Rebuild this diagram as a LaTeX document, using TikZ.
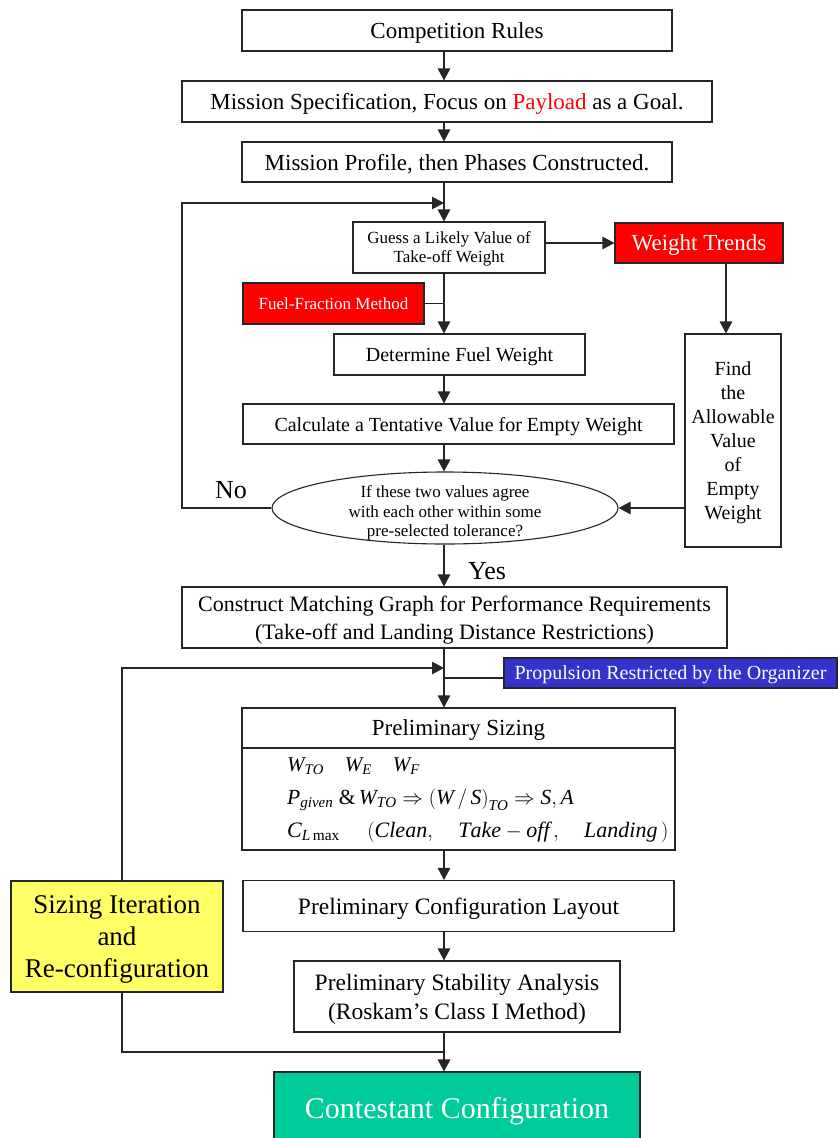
\documentclass[tikz,border=0pt]{standalone}
\usepackage{fontspec}
\setmainfont{Liberation Serif}
\usetikzlibrary{arrows.meta,shapes.geometric}
\definecolor{fred}{HTML}{FF0000}
\definecolor{fblue}{HTML}{3333CC}
\definecolor{fyel}{HTML}{FFFF66}
\definecolor{fteal}{HTML}{00CC99}
\newcommand{\fsz}[2]{\fontsize{#1}{#2}\selectfont}
\begin{document}
\begin{tikzpicture}[x=1pt,y=-1pt,
  box/.style={draw=black!85, line width=1.1pt, inner sep=0pt, align=center, fill=white, text depth=0pt},
  arr/.style={line width=1.1pt, draw=black!85, -{Triangle[length=12pt,width=12.5pt]}},
  ln/.style={line width=1.1pt, draw=black!85},
  lbl/.style={inner sep=0pt}]
\useasboundingbox[fill=white] (0,0) rectangle (838,1138);

% helper coordinates
\coordinate (X) at (444,0);
\coordinate (WX) at (726,0);
\coordinate (fbl) at (182,203);
\coordinate (fbj) at (444,203);
\coordinate (pj) at (444,678);
\coordinate (YL) at (122,668);
\coordinate (bj) at (444,1052);

% nodes
\node[box, minimum width=430pt, minimum height=41pt, font=\fsz{23}{27}] (cr) at (457,30.5) {Competition Rules};
\node[box, minimum width=530pt, minimum height=41pt, font=\fsz{23}{27}] (ms) at (447,101.5) {Mission Specification, Focus on \textcolor{fred}{Payload} as a Goal.};
\node[box, minimum width=430pt, minimum height=40pt, font=\fsz{23}{27}] (mp) at (457,162) {Mission Profile, then Phases Constructed.};
\node[box, minimum width=192pt, minimum height=51pt, font=\fsz{17}{19}] (guess) at (449,247.5) {Guess a Likely Value of\\Take-off Weight};
\node[box, fill=fred, text=white, minimum width=168pt, minimum height=40pt, font=\fsz{23}{27}] (wt) at (699,243) {Weight Trends};
\node[box, fill=fred, text=white, minimum width=181pt, minimum height=41pt, font=\fsz{17}{19}] (ff) at (333.5,303.5) {Fuel-Fraction Method};
\node[box, minimum width=251pt, minimum height=41pt, font=\fsz{20}{24}] (dfw) at (459.5,354.5) {Determine Fuel Weight};
\node[box, minimum width=431pt, minimum height=40pt, font=\fsz{20}{24}] (calc) at (458.5,424) {Calculate a Tentative Value for Empty Weight};
\node[box, ellipse, minimum width=346pt, minimum height=72pt] (ell) at (445,508) {};
\node[lbl, align=center, font=\fsz{17}{19.5}] (elltext) at (445,513) {If these two values agree\\with each other within some\\pre-selected tolerance?};
\node[box, minimum width=96pt, minimum height=213pt, font=\fsz{20}{24}] (find) at (733,440.5) {Find\\the\\Allowable\\Value\\of\\Empty\\Weight};
\node[box, minimum width=545pt, minimum height=61pt, font=\fsz{22}{28}] (con) at (454.5,617.5) {Construct Matching Graph for Performance Requirements\\(Take-off and Landing Distance Restrictions)};
\node[box, fill=fblue, text=white, minimum width=333pt, minimum height=30pt, font=\fsz{20}{24}] (prop) at (670.5,673) {Propulsion Restricted by the Organizer};
\node[box, minimum width=433pt, minimum height=40pt, font=\fsz{23}{27}] (szh) at (458.5,728) {Preliminary Sizing};
\node[box, minimum width=433pt, minimum height=102pt] (szb) at (458.5,799) {};
\node[lbl, anchor=west, font=\fsz{21}{24}] (m1) at (287,766) {$\mathit{W}_{\mathit{TO}}\quad \mathit{W}_{\mathit{E}}\quad \mathit{W}_{\mathit{F}}$};
\node[lbl, anchor=west, font=\fsz{21.5}{24}] (m2) at (287,800) {$\mathit{P}_{\mathit{given}}\ \mathit{\&}\,\mathit{W}_{\mathit{TO}}\Rightarrow \bigl(\mathit{W}\,/\,\mathit{S}\bigr)_{\mathit{TO}}\Rightarrow \mathit{S},\mathit{A}$};
\node[lbl, anchor=west, font=\fsz{22}{24}] (m3) at (287,832) {$\mathit{C}_{\mathit{L}\,\mathrm{max}}\quad\ (\mathit{Clean},\quad \mathit{Take}-\mathit{off}\,,\quad \mathit{Landing}\,)$};
\node[box, minimum width=431pt, minimum height=51pt, font=\fsz{23.5}{27}] (cfg) at (458.5,906) {Preliminary Configuration Layout};
\node[box, minimum width=326pt, minimum height=71pt, font=\fsz{23.5}{29}] (stab) at (457,996.5) {Preliminary Stability Analysis\\(Roskam’s Class I Method)};
\node[box, fill=fyel, minimum width=212pt, minimum height=111pt, font=\fsz{27}{32}] (yel) at (117,936.5) {Sizing Iteration\\and\\Re-configuration};
\node[box, fill=fteal, text=white, minimum width=366pt, minimum height=72pt, font=\fsz{30}{34}] (cont) at (457,1108) {Contestant Configuration};
\node[lbl, font=\fsz{26}{30}] (no) at (231,490) {No};
\node[lbl, font=\fsz{26}{30}] (yes) at (487,571) {Yes};

% connectors
\draw[arr] (cr.south -| X) -- (ms.north -| X);
\draw[arr] (ms.south -| X) -- (mp.north -| X);
\draw[arr] (mp.south -| X) -- (guess.north -| X);
\draw[arr] (ell.west) -| (fbl) -- (fbj);
\draw[arr] (guess.east |- wt.west) -- (wt.west);
\draw[arr] (guess.south -| X) -- (dfw.north -| X);
\draw[ln] (ff.east) -- (ff.east -| X);
\draw[arr] (dfw.south -| X) -- (calc.north -| X);
\draw[arr] (calc.south -| X) -- (ell.north -| X);
\draw[arr] (wt.south -| WX) -- (find.north -| WX);
\draw[arr] (find.west |- ell.east) -- (ell.east);
\draw[arr] (ell.south -| X) -- (con.north -| X);
\draw[arr] (con.south -| X) -- (szh.north -| X);
\draw[ln] (prop.west |- pj) -- (pj);
\draw[arr] (yel.north -| YL) -- (YL) -- (YL -| X);
\draw[arr] (szb.south -| X) -- (cfg.north -| X);
\draw[arr] (cfg.south -| X) -- (stab.north -| X);
\draw[ln] (yel.south -| YL) |- (bj);
\draw[arr] (stab.south -| X) -- (cont.north -| X);
\end{tikzpicture}
\end{document}
